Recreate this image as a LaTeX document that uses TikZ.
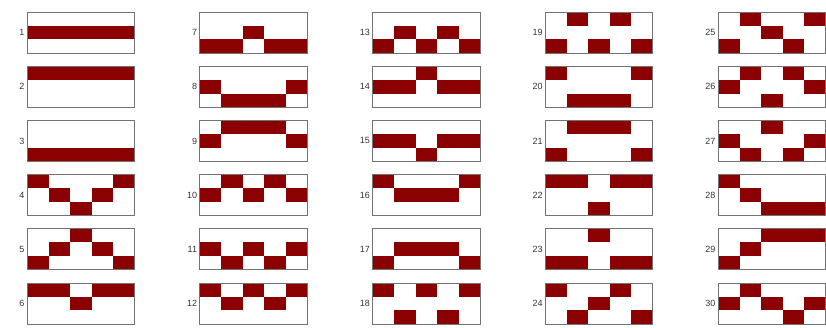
\documentclass[tikz,border=0pt]{standalone}
\usepackage{fontspec}
\setmainfont{Liberation Sans}
\definecolor{cellred}{RGB}{139,0,0}
\definecolor{framegray}{RGB}{115,115,115}
\begin{document}
\begin{tikzpicture}[x=1pt,y=-1pt,
  cellfill/.style={fill=cellred},
  boxframe/.style={draw=framegray,line width=0.8pt},
  numlabel/.style={anchor=east,inner sep=0pt,font=\fontsize{9}{9}\selectfont,text=black!80}]
\useasboundingbox (0,0) rectangle (826,327);
\foreach \n/\p in {
  1/{1,1,1,1,1}, 2/{0,0,0,0,0}, 3/{2,2,2,2,2}, 4/{0,1,2,1,0}, 5/{2,1,0,1,2}, 6/{0,0,1,0,0},
  7/{2,2,1,2,2}, 8/{1,2,2,2,1}, 9/{1,0,0,0,1}, 10/{1,0,1,0,1}, 11/{1,2,1,2,1}, 12/{0,1,0,1,0},
  13/{2,1,2,1,2}, 14/{1,1,0,1,1}, 15/{1,1,2,1,1}, 16/{0,1,1,1,0}, 17/{2,1,1,1,2}, 18/{0,2,0,2,0},
  19/{2,0,2,0,2}, 20/{0,2,2,2,0}, 21/{2,0,0,0,2}, 22/{0,0,2,0,0}, 23/{2,2,0,2,2}, 24/{0,2,1,0,2},
  25/{2,0,1,2,0}, 26/{1,0,2,0,1}, 27/{1,2,0,2,1}, 28/{0,1,2,2,2}, 29/{2,1,0,0,0}, 30/{1,0,1,2,1}} {
  \pgfmathtruncatemacro\c{div(\n-1,6)}
  \pgfmathtruncatemacro\r{mod(\n-1,6)}
  \pgfmathsetmacro\xo{27+172.75*\c}
  \pgfmathsetmacro\yo{12+54.2*\r}
  \foreach \v [count=\k from 0] in \p {
    \fill[cellfill] (\xo+\k*21.5,\yo+\v*13.667) rectangle ++(21.5,13.667);
  }
  \draw[boxframe] (\xo,\yo) rectangle ++(107.5,41);
  \node[numlabel] (lab\n) at (\xo-2.5,\yo+20.5) {\n};
}
\end{tikzpicture}
\end{document}
